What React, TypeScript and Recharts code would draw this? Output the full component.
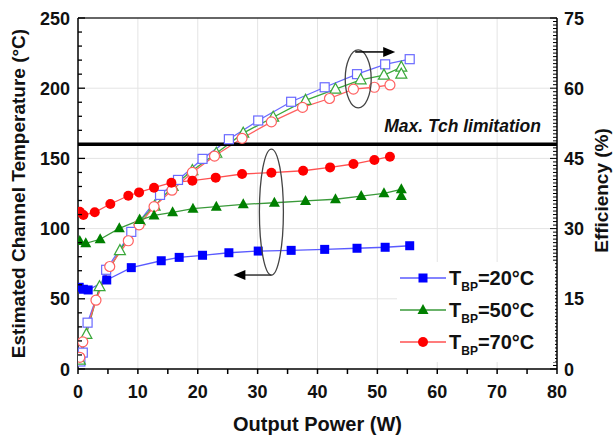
import React from 'react';
import { ComposedChart, Line, XAxis, YAxis, ReferenceLine, ReferenceDot } from 'recharts';

// ---- data (x = output power W) ----
const temp20 = [
  { p: 0.2, v: 58.2 }, { p: 0.9, v: 56.8 }, { p: 1.7, v: 56.3 }, { p: 4.8, v: 63.4 }, { p: 8.9, v: 72.2 },
  { p: 13.9, v: 77.1 }, { p: 16.9, v: 79.5 }, { p: 20.8, v: 81 }, { p: 25.2, v: 82.8 }, { p: 30.1, v: 84 },
  { p: 35.6, v: 84.5 }, { p: 41.2, v: 85.2 }, { p: 46.6, v: 86 }, { p: 51.3, v: 86.7 }, { p: 55.4, v: 87.8 },
];
const temp50 = [
  { p: 0.3, v: 91.2 }, { p: 1.3, v: 89.5 }, { p: 3.7, v: 92.4 }, { p: 6.9, v: 100.2 }, { p: 10.3, v: 106.1 },
  { p: 12.7, v: 109.4 }, { p: 15.8, v: 111.6 }, { p: 19.2, v: 114.2 }, { p: 23.1, v: 115.6 }, { p: 27.6, v: 117.3 },
  { p: 32.8, v: 118.4 }, { p: 38, v: 119.7 }, { p: 43, v: 120.9 }, { p: 47.3, v: 123.2 }, { p: 51.1, v: 125.1 },
  { p: 54, v: 128 }, { p: 54, v: 123.2 },
];
const temp70 = [
  { p: 0.3, v: 112 }, { p: 0.9, v: 109.7 }, { p: 2.8, v: 111.6 }, { p: 5.4, v: 117.5 }, { p: 8.4, v: 123.4 },
  { p: 10.2, v: 125.8 }, { p: 12.7, v: 129.1 }, { p: 15.6, v: 132.7 }, { p: 19.1, v: 134.1 }, { p: 23, v: 136.3 },
  { p: 27.4, v: 138.9 }, { p: 32.3, v: 139.8 }, { p: 37.6, v: 141.2 }, { p: 42.1, v: 143.6 }, { p: 46, v: 146 },
  { p: 49.5, v: 148.9 }, { p: 52.1, v: 151.2 },
];
const eff20 = [
  { p: 0.4, v: 1.6 }, { p: 0.8, v: 3.5 }, { p: 1.6, v: 9.9 }, { p: 4.7, v: 21.2 }, { p: 8.9, v: 29.3 },
  { p: 13.7, v: 37.2 }, { p: 16.7, v: 40.4 }, { p: 20.8, v: 44.9 }, { p: 25.2, v: 49.1 }, { p: 30.1, v: 53.1 },
  { p: 35.6, v: 57.1 }, { p: 41.2, v: 60.2 }, { p: 46.6, v: 63 }, { p: 51.3, v: 65.1 }, { p: 55.4, v: 66.2 },
];
const eff50 = [
  { p: 0.3, v: 1.9 }, { p: 1.4, v: 7.4 }, { p: 3.6, v: 17.6 }, { p: 7, v: 25.3 }, { p: 10.3, v: 31.7 },
  { p: 12.8, v: 34.8 }, { p: 15.8, v: 39 }, { p: 19.1, v: 42.4 }, { p: 23.1, v: 46.1 }, { p: 27.6, v: 50.4 },
  { p: 32.6, v: 53.8 }, { p: 38, v: 57.4 }, { p: 43, v: 59.8 }, { p: 47.2, v: 61.8 }, { p: 51.1, v: 62.8 },
  { p: 54, v: 64.5 }, { p: 54, v: 63 },
];
const eff70 = [
  { p: 0.3, v: 2.5 }, { p: 0.8, v: 5.8 }, { p: 3, v: 14.7 }, { p: 5.3, v: 21.9 }, { p: 8.4, v: 27.4 },
  { p: 10.2, v: 30.8 }, { p: 12.7, v: 34.7 }, { p: 15.7, v: 38.2 }, { p: 19.1, v: 42 }, { p: 22.8, v: 45.5 },
  { p: 27.4, v: 49.3 }, { p: 32.3, v: 52.8 }, { p: 37.5, v: 55.9 }, { p: 42, v: 57.8 }, { p: 46, v: 59.8 },
  { p: 49.5, v: 60.2 }, { p: 52.1, v: 60.7 },
];

const xTicks = [0, 5, 10, 15, 20, 25, 30, 35, 40, 45, 50, 55, 60, 65, 70, 75, 80];
const xGrid = [10, 20, 30, 40, 50, 60, 70];
const leftTicks = [0, 10, 20, 30, 40, 50, 60, 70, 80, 90, 100, 110, 120, 130, 140, 150, 160, 170, 180, 190, 200, 210, 220, 230, 240, 250];
const yGrid = [50, 100, 150, 200];
const rightTicks = Array.from({ length: 101 }, (_, i) => i * 0.75);
const tchLimit = 160;
const legendItems = [
  { label: '=20°C', line: '#5a5aff', fill: '#0000ff', shape: 'square' },
  { label: '=50°C', line: '#3a9a3a', fill: '#008000', shape: 'triangle' },
  { label: '=70°C', line: '#ff5050', fill: '#ff0000', shape: 'circle' },
];
const annotations = [
  { p: 46.8, v: 206.6, rx: 13, ry: 29, dir: 'right' },
  { p: 32.3, v: 111.8, rx: 12, ry: 63, dir: 'left' },
];

const FONT = '"Liberation Sans", Arial, sans-serif';

const XTick = (props: any) => {
  const { x, y, payload } = props;
  const v = payload.value;
  const major = v % 10 === 0;
  return (
    <g>
      <line x1={x} x2={x} y1={y} y2={y + 5} stroke="#000" strokeWidth={1.5} />
      {major && (
        <text x={x} y={y + 29} textAnchor="middle" fontSize={18} fontWeight="bold" fontFamily={FONT} fill="#111">{v}</text>
      )}
    </g>
  );
};
const LeftTick = (props: any) => {
  const { x, y, payload } = props;
  const v = payload.value;
  const major = v % 50 === 0;
  return (
    <g>
      <line x1={x} x2={x + (major ? 7 : 4)} y1={y} y2={y} stroke="#000" strokeWidth={1.3} />
      {major && (
        <text x={x - 8} y={y + 6.5} textAnchor="end" fontSize={18} fontWeight="bold" fontFamily={FONT} fill="#111">{v}</text>
      )}
    </g>
  );
};
const RightTick = (props: any) => {
  const { x, y, payload } = props;
  const v = payload.value;
  const major = Math.abs(v % 15) < 1e-6;
  return (
    <g>
      <line x1={x} x2={x - (major ? 7 : 4)} y1={y} y2={y} stroke="#000" strokeWidth={1} />
      {major && (
        <text x={x + 7} y={y + 6.5} textAnchor="start" fontSize={18} fontWeight="bold" fontFamily={FONT} fill="#111">{v}</text>
      )}
    </g>
  );
};

const mk = (shape: string, color: string, open: boolean) => (props: any) => {
  const { cx, cy, index } = props;
  if (cx == null || cy == null) return <g key={index} />;
  const fill = open ? '#fff' : color;
  const sw = open ? 1.2 : 0;
  if (shape === 'square') return <rect key={index} x={cx - 4.5} y={cy - 4.5} width={9} height={9} fill={fill} stroke={color} strokeWidth={sw} />;
  if (shape === 'circle') return <circle key={index} cx={cx} cy={cy} r={5} fill={fill} stroke={color} strokeWidth={sw} />;
  return <polygon key={index} points={`${cx},${cy - 6} ${cx - 5.5},${cy + 4} ${cx + 5.5},${cy + 4}`} fill={fill} stroke={color} strokeWidth={sw} />;
};

const EllipseShape = (dir: string, rx: number, ry: number) => (props: any) => {
  const { cx, cy } = props;
  if (cx == null) return <g />;
  if (dir === 'right') {
    const ay = cy - ry + 2;
    return (
      <g>
        <ellipse cx={cx} cy={cy} rx={rx} ry={ry} fill="none" stroke="#444" strokeWidth={1.3} />
        <line x1={cx - 3} y1={ay} x2={cx + 27} y2={ay} stroke="#000" strokeWidth={1.5} />
        <polygon points={`${cx + 37},${ay} ${cx + 25},${ay - 5} ${cx + 25},${ay + 5}`} fill="#000" />
      </g>
    );
  }
  const ay = cy + ry;
  return (
    <g>
      <ellipse cx={cx} cy={cy} rx={rx} ry={ry} fill="none" stroke="#444" strokeWidth={1.3} />
      <line x1={cx} y1={ay} x2={cx - 28} y2={ay} stroke="#333" strokeWidth={1.5} />
      <polygon points={`${cx - 38},${ay} ${cx - 26},${ay - 5} ${cx - 26},${ay + 5}`} fill="#000" />
    </g>
  );
};

const LegendMarker = ({ shape, color, cx, cy }: any) => {
  if (shape === 'square') return <rect x={cx - 4.5} y={cy - 4.5} width={9} height={9} fill={color} />;
  if (shape === 'circle') return <circle cx={cx} cy={cy} r={5} fill={color} />;
  return <polygon points={`${cx},${cy - 6} ${cx - 5.5},${cy + 4} ${cx + 5.5},${cy + 4}`} fill={color} />;
};

export default function App() {
  return (
    <div style={{ position: 'absolute', left: 0, top: 0, width: 615, height: 439, background: '#fff' }}>
      <ComposedChart width={615} height={439} margin={{ top: 18, right: 0, bottom: 0, left: 0 }}>
        <XAxis
          type="number" dataKey="p" domain={[0, 80]} ticks={xTicks} interval={0}
          height={70} tickSize={0} tickMargin={0} tick={<XTick />}
          axisLine={{ stroke: '#000', strokeWidth: 1.5 }} tickLine={false} allowDataOverflow
          label={{
            content: (p: any) => {
              const vb = p.viewBox;
              return <text x={vb.x + vb.width / 2} y={vb.y + 62} textAnchor="middle" fontSize={20} fontWeight="bold" fontFamily={FONT} fill="#111">Output Power (W)</text>;
            },
          }}
        />
        <YAxis
          yAxisId="left" type="number" domain={[0, 250]} ticks={leftTicks} interval={0}
          width={78} tickSize={0} tickMargin={0} tick={<LeftTick />}
          axisLine={{ stroke: '#000', strokeWidth: 1.5 }} tickLine={false} allowDataOverflow
          label={{
            content: (p: any) => {
              const vb = p.viewBox;
              const cx = vb.x + 18;
              const cy = vb.y + vb.height / 2;
              return <text x={cx} y={cy} transform={`rotate(-90, ${cx}, ${cy})`} textAnchor="middle" dominantBaseline="central" fontSize={19} fontWeight="bold" fontFamily={FONT} fill="#111">Estimated Channel Temperature (°C)</text>;
            },
          }}
        />
        <YAxis
          yAxisId="right" orientation="right" type="number" domain={[0, 75]} ticks={rightTicks} interval={0}
          width={58} tickSize={0} tickMargin={0} tick={<RightTick />}
          axisLine={{ stroke: '#000', strokeWidth: 1.5 }} tickLine={false} allowDataOverflow
          label={{
            content: (p: any) => {
              const vb = p.viewBox;
              const cx = vb.x + 44;
              const cy = vb.y + vb.height / 2 - 3;
              return <text x={cx} y={cy} transform={`rotate(-90, ${cx}, ${cy})`} textAnchor="middle" dominantBaseline="central" fontSize={19} fontWeight="bold" fontFamily={FONT} fill="#111">Efficiency (%)</text>;
            },
          }}
        />
        {xGrid.map((g) => (
          <ReferenceLine key={'xg' + g} x={g} yAxisId="left" stroke="#e4e4e4" strokeWidth={1} />
        ))}
        {yGrid.map((g) => (
          <ReferenceLine key={'yg' + g} y={g} yAxisId="left" stroke="#e4e4e4" strokeWidth={1} />
        ))}
        <ReferenceLine y={250} yAxisId="left" stroke="#333" strokeWidth={1.5} />

        <Line yAxisId="right" data={eff20} dataKey="v" stroke="#6a6aff" strokeWidth={1.3} dot={mk('square', '#6a6aff', true)} isAnimationActive={false} />
        <Line yAxisId="right" data={eff50} dataKey="v" stroke="#3aa83a" strokeWidth={1.3} dot={mk('triangle', '#3aa83a', true)} isAnimationActive={false} />
        <Line yAxisId="right" data={eff70} dataKey="v" stroke="#ff6060" strokeWidth={1.3} dot={mk('circle', '#ff6060', true)} isAnimationActive={false} />

        <Line yAxisId="left" data={temp20} dataKey="v" stroke="#5a5aff" strokeWidth={1.3} dot={mk('square', '#0000ff', false)} isAnimationActive={false} />
        <Line yAxisId="left" data={temp50} dataKey="v" stroke="#3a9a3a" strokeWidth={1.3} dot={mk('triangle', '#008000', false)} isAnimationActive={false} />
        <Line yAxisId="left" data={temp70} dataKey="v" stroke="#ff5050" strokeWidth={1.3} dot={mk('circle', '#ff0000', false)} isAnimationActive={false} />

        <ReferenceLine
          y={tchLimit} yAxisId="left" stroke="#000" strokeWidth={3.5}
          label={{
            content: (p: any) => {
              const vb = p.viewBox;
              return <text x={vb.x + vb.width - 16} y={vb.y - 12} textAnchor="end" fontSize={17.5} fontWeight="bold" fontStyle="italic" fontFamily={FONT} fill="#111">Max. Tch limitation</text>;
            },
          }}
        />
        {annotations.map((a, i) => (
          <ReferenceDot key={'an' + i} x={a.p} y={a.v} yAxisId="left" shape={EllipseShape(a.dir, a.rx, a.ry)} />
        ))}
      </ComposedChart>
      <div style={{ position: 'absolute', left: 397, top: 262, width: 158, height: 100, background: '#fff' }}>
        <svg width={158} height={100}>
          {legendItems.map((it, i) => {
            const cy = 16 + i * 32;
            return (
              <g key={it.label}>
                <line x1={3} x2={49} y1={cy} y2={cy} stroke={it.line} strokeWidth={1.3} />
                <LegendMarker shape={it.shape} color={it.fill} cx={26} cy={cy} />
                <text x={52} y={cy + 7} fontSize={20} fontWeight="bold" fontFamily={FONT} fill="#111">
                  <tspan>T</tspan>
                  <tspan dy={6} fontSize={12}>BP</tspan>
                  <tspan dy={-6}>{it.label}</tspan>
                </text>
              </g>
            );
          })}
        </svg>
      </div>
    </div>
  );
}
